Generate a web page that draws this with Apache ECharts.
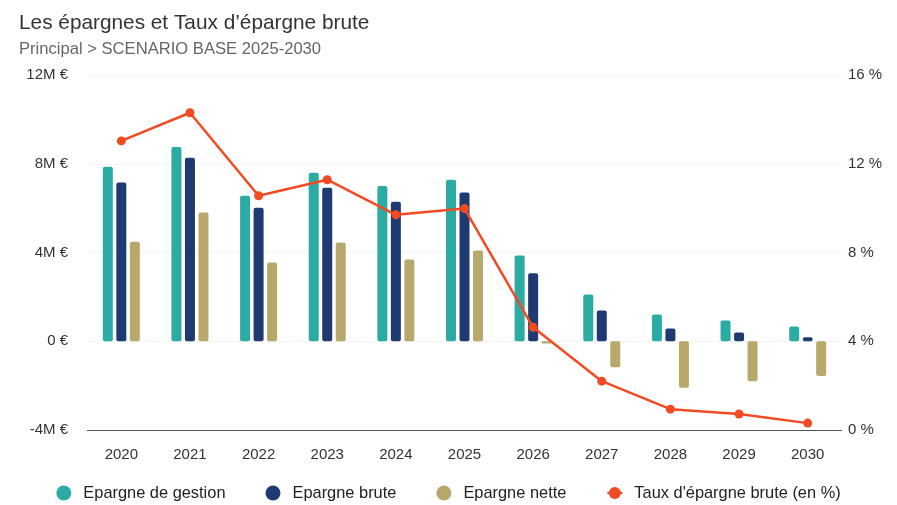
<!DOCTYPE html>
<html>
<head>
<meta charset="utf-8">
<script src="https://cdn.jsdelivr.net/npm/echarts@6/dist/echarts.min.js"></script>
<style>
  html, body { margin: 0; padding: 0; background: #fff; }
  #chart { width: 897px; height: 505px; }
</style>
</head>
<body>
<div id="chart"></div>
<script>
  // données (en M€ et en %)
  var years = ['2020', '2021', '2022', '2023', '2024', '2025', '2026', '2027', '2028', '2029', '2030'];
  var epargneGestion = [7.87, 8.76, 6.56, 7.6, 7.0, 7.28, 3.87, 2.11, 1.21, 0.94, 0.67];
  var epargneBrute = [7.15, 8.27, 6.02, 6.92, 6.29, 6.7, 3.06, 1.39, 0.58, 0.4, 0.18];
  var epargneNette = [4.49, 5.8, 3.55, 4.45, 3.69, 4.09, -0.1, -1.17, -2.1, -1.8, -1.57];
  var tauxEpargne = [13.03, 14.3, 10.56, 11.28, 9.7, 9.98, 4.63, 2.2, 0.94, 0.72, 0.31];

  var myChart = echarts.init(document.getElementById('chart'));

  var barStyle = function (color) {
    return { color: color, borderRadius: 2 };
  };

  myChart.setOption({
    textStyle: { fontFamily: 'Liberation Sans, Arial, sans-serif' },
    title: {
      text: 'Les épargnes et Taux d\u2019épargne brute',
      subtext: 'Principal > SCENARIO BASE 2025-2030',
      left: 14,
      top: 8,
      itemGap: 7,
      textStyle: { fontSize: 20.8, fontWeight: 'normal', color: '#333' },
      subtextStyle: { fontSize: 16.6, color: '#666' }
    },
    legend: {
      bottom: -1,
      left: 'center',
      itemGap: 40,
      itemWidth: 15,
      itemHeight: 15,
      textStyle: { fontSize: 16.4, color: '#222', padding: [0, 0, 0, 7] },
      data: [
        { name: 'Epargne de gestion', icon: 'circle' },
        { name: 'Epargne brute', icon: 'circle' },
        { name: 'Epargne nette', icon: 'circle' },
        { name: 'Taux d\'épargne brute (en %)' }
      ]
    },
    grid: {
      left: 87,
      right: 55,
      top: 75,
      bottom: 75
    },
    xAxis: {
      type: 'category',
      data: years,
      axisTick: { show: false },
      axisLine: { show: false },
      axisLabel: { fontSize: 15, color: '#333', margin: 17 }
    },
    yAxis: [
      {
        type: 'value',
        min: -4,
        max: 12,
        interval: 4,
        axisLine: { show: false },
        axisTick: { show: false },
        axisLabel: {
          fontSize: 15,
          color: '#333',
          margin: 19,
          formatter: function (v) { return v === 0 ? '0 €' : v + 'M €'; }
        },
        splitLine: { lineStyle: { color: '#f3f3f3' } }
      },
      {
        type: 'value',
        min: 0,
        max: 16,
        interval: 4,
        axisLine: { show: false },
        axisTick: { show: false },
        axisLabel: {
          fontSize: 15,
          color: '#333',
          margin: 6,
          formatter: '{value} %'
        },
        splitLine: { show: false }
      }
    ],
    series: [
      {
        name: 'Epargne de gestion',
        type: 'bar',
        barWidth: 10,
        barGap: '35%',
        itemStyle: barStyle('#2aaba3'),
        data: epargneGestion,
        markLine: {
          silent: true,
          symbol: 'none',
          label: { show: false },
          lineStyle: { color: '#555', type: 'solid', width: 1.2 },
          data: [{ yAxis: -4 }]
        }
      },
      {
        name: 'Epargne brute',
        type: 'bar',
        barWidth: 10,
        itemStyle: barStyle('#1f3a70'),
        data: epargneBrute
      },
      {
        name: 'Epargne nette',
        type: 'bar',
        barWidth: 10,
        itemStyle: barStyle('#b8a86c'),
        data: epargneNette
      },
      {
        name: 'Taux d\'épargne brute (en %)',
        type: 'line',
        yAxisIndex: 1,
        symbol: 'circle',
        symbolSize: 9,
        lineStyle: { color: '#f24a22', width: 2.5 },
        itemStyle: { color: '#f24a22' },
        data: tauxEpargne
      }
    ]
  });
</script>
</body>
</html>
